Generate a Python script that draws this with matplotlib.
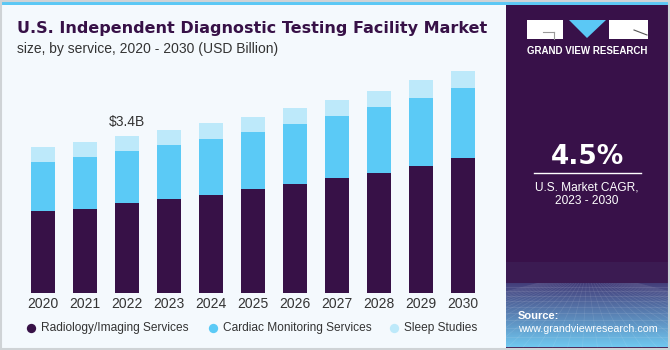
import numpy as np
import matplotlib.pyplot as plt
from matplotlib.patches import Rectangle, Polygon

plt.rcParams['font.family'] = ['Liberation Sans', 'DejaVu Sans']

years = ['2020', '2021', '2022', '2023', '2024', '2025', '2026', '2027', '2028', '2029', '2030']
radiology = [1.79, 1.84, 1.95, 2.04, 2.13, 2.26, 2.38, 2.50, 2.62, 2.77, 2.94]
cardiac = [1.06, 1.12, 1.14, 1.17, 1.21, 1.24, 1.30, 1.35, 1.43, 1.48, 1.52]
sleep = [0.33, 0.32, 0.32, 0.33, 0.35, 0.32, 0.34, 0.35, 0.34, 0.37, 0.37]
services = ['Radiology/Imaging Services', 'Cardiac Monitoring Services', 'Sleep Studies']
colors = ['#371147', '#5bcaf6', '#bde9fa']
label_year = 2

W, H = 670, 350
bg = '#f4f9fd'
panel = '#381149'


def fx(x):
    return x / W


def fy(y):
    return 1 - y / H


fig = plt.figure(figsize=(6.7, 3.5), dpi=100)
fig.patch.set_facecolor(bg)

# main bars
ax = fig.add_axes([fx(21.8), fy(293.3), 462 / W, (293.3 - 60) / H])
ax.set_facecolor('none')
x = np.arange(len(years))
rad = np.array(radiology)
car = np.array(cardiac)
slp = np.array(sleep)
ax.bar(x, rad, width=0.58, color=colors[0])
ax.bar(x, car, width=0.58, bottom=rad, color=colors[1])
ax.bar(x, slp, width=0.58, bottom=rad + car, color=colors[2])
total = rad + car + slp
ax.text(label_year, total[label_year] + 0.15, '\\$%.1fB' % total[label_year],
        ha='center', va='bottom', fontsize=10, color='#333333')
ax.set_xlim(-0.5, len(years) - 0.5)
ax.set_ylim(0, 5.065)
ax.set_xticks(x, years)
ax.tick_params(axis='x', length=0, pad=3, labelsize=10, labelcolor='#333333')
ax.set_yticks([])
for s in ax.spines.values():
    s.set_visible(False)

# titles
fig.text(fx(17), fy(29), 'U.S. Independent Diagnostic Testing Facility Market',
         fontsize=11.55, fontweight='bold', color='#371147', va='center',
         family=['DejaVu Sans'])
fig.text(fx(17), fy(49), 'size, by service, 2020 - 2030 (USD Billion)',
         fontsize=10, color='#333333', va='center')

# decoration overlay in pixel coordinates
ov = fig.add_axes([0, 0, 1, 1])
ov.axis('off')

# legend, drawn by hand so the entries sit where the reference has them
legend_x = [31, 213, 394]
for lx, name, c in zip(legend_x, services, colors):
    ov.scatter([lx], [328], s=45, color=c, lw=0, zorder=4)
    ov.text(lx + 10, 328, name, fontsize=8.6, color='#333333', ha='left', va='center')

ov.add_patch(Rectangle((0, 0), W, 4.5, color='#5bc8f5', lw=0))
ov.add_patch(Rectangle((506, 4.5), 162, 343, color=panel, lw=0))

# gradient at bottom of panel
ys = np.linspace(262, 347, 170)
stops_y = [262, 282.9, 283, 347]
stops_c = np.array([[0x38, 0x11, 0x49], [0x3e, 0x24, 0x5c],
                    [0x44, 0x3e, 0x7a], [0x70, 0xc8, 0xf0]]) / 255
grad = np.stack([np.interp(ys, stops_y, stops_c[:, k]) for k in range(3)], axis=-1)[:, None, :]
ov.imshow(grad, extent=(506, 668, 347, 262), aspect='auto', zorder=1)
for yy in [287, 291, 296, 301, 307, 313, 320, 328, 337, 347]:
    ov.plot([506, 668], [yy, yy], color='white', alpha=0.13, lw=0.5, zorder=2)
for xx in np.linspace(300, 880, 40):
    ov.plot([587, xx], [270, 347], color='white', alpha=0.10, lw=0.5, zorder=2)
ov.add_patch(Rectangle((506, 262), 162, 21, color='#3b1b52', lw=0, zorder=2))
ov.set_xlim(0, W)
ov.set_ylim(H, 0)

# logo
ov.add_patch(Rectangle((527, 20), 36, 19, color='white', lw=0, zorder=3))
ov.plot([543, 554], [32, 32], color='#999999', lw=0.8, zorder=4)
ov.plot([554, 554], [32, 39], color='#999999', lw=0.8, zorder=4)
ov.add_patch(Polygon([(569, 20), (606, 20), (587, 38)], color='#5bc8f5', lw=0, zorder=3))
ov.add_patch(Rectangle((609, 20), 39, 19, color='white', lw=0, zorder=3))
ov.plot([634, 647], [30, 35], color='#555555', lw=0.8, zorder=4)
ov.text(587, 51, 'GRAND VIEW RESEARCH', color='white', fontsize=7, fontweight='bold',
        ha='center', va='center', zorder=4)

ov.text(587, 157, '4.5%', color='white', fontsize=19, fontweight='bold',
        ha='center', va='center', family=['DejaVu Sans'], zorder=4)
ov.plot([534, 641], [173, 173], color='white', lw=1, zorder=4)
ov.text(587, 187, 'U.S. Market CAGR,', color='white', fontsize=8.6,
        ha='center', va='center', zorder=4)
ov.text(587, 201, '2023 - 2030', color='white', fontsize=8.6,
        ha='center', va='center', zorder=4)
ov.text(518, 316, 'Source:', color='white', fontsize=8, fontweight='bold',
        ha='left', va='center', zorder=4)
ov.text(518, 329, 'www.grandviewresearch.com', color='white', fontsize=7.7,
        ha='left', va='center', zorder=4)

# frame
ov.add_patch(Rectangle((0.5, 0.5), W - 1.5, H - 2, fill=False, ec='#cfd3d6', lw=1.5, zorder=5))

fig.savefig('out.png', dpi=100, facecolor=bg)
